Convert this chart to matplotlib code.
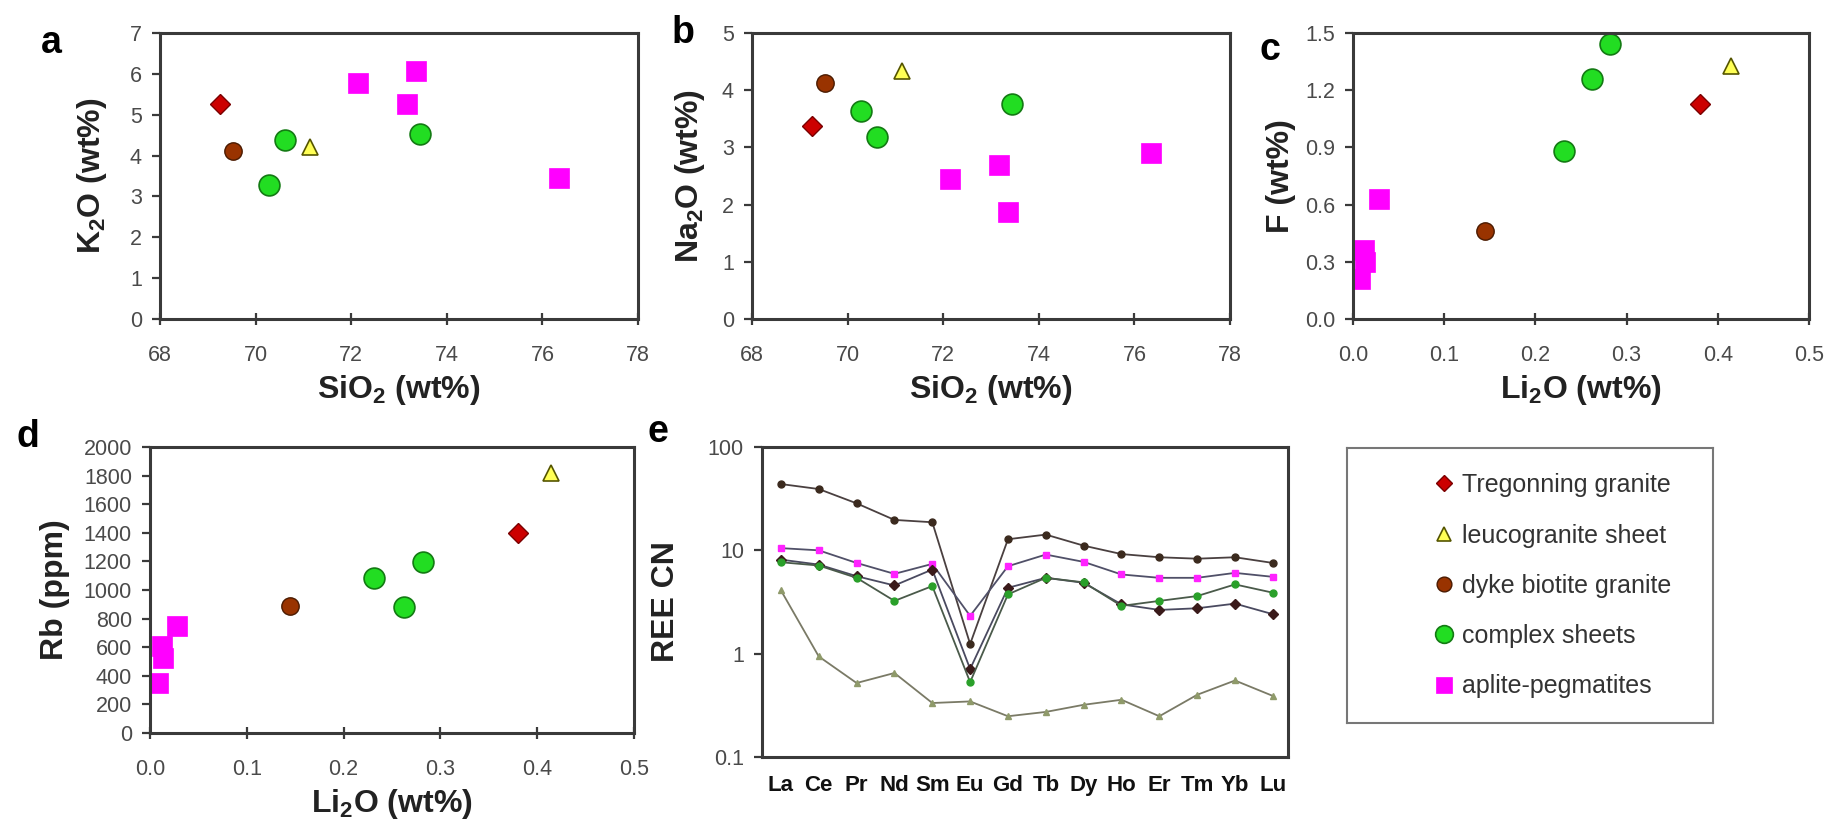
import numpy as np
import matplotlib.pyplot as plt
from matplotlib.lines import Line2D

plt.rcParams['font.family'] = ['Liberation Sans', 'DejaVu Sans']
plt.rcParams['mathtext.fontset'] = 'custom'
plt.rcParams['mathtext.rm'] = 'Liberation Sans:bold'
plt.rcParams['mathtext.bf'] = 'Liberation Sans:bold'
plt.rcParams['mathtext.default'] = 'bf'

# --- whole-rock data by group ---
sio2_treg = [69.25]
k2o_treg = [5.27]
na2o_treg = [3.37]
li2o_treg = [0.380]
f_treg = [1.125]
rb_treg = [1400]

sio2_leuco = [71.14]
k2o_leuco = [4.21]
na2o_leuco = [4.33]
li2o_leuco = [0.414]
f_leuco = [1.325]
rb_leuco = [1820]

sio2_dyke = [69.53]
k2o_dyke = [4.11]
na2o_dyke = [4.13]
li2o_dyke = [0.145]
f_dyke = [0.46]
rb_dyke = [890]

sio2_complex = [70.28, 70.62, 73.44]
k2o_complex = [3.28, 4.39, 4.54]
na2o_complex = [3.63, 3.19, 3.76]
li2o_complex = [0.231, 0.262, 0.282]
f_complex = [0.88, 1.26, 1.44]
rb_complex = [1086, 879, 1193]

sio2_aplite = [72.15, 73.17, 73.35, 76.35]
k2o_aplite = [5.78, 5.27, 6.08, 3.44]
na2o_aplite = [2.44, 2.69, 1.87, 2.90]
li2o_aplite = [0.028, 0.012, 0.013, 0.008]
f_aplite = [0.63, 0.36, 0.30, 0.21]
rb_aplite = [750, 605, 525, 350]

# chondrite-normalised REE
ree = ['La', 'Ce', 'Pr', 'Nd', 'Sm', 'Eu', 'Gd', 'Tb', 'Dy', 'Ho', 'Er', 'Tm', 'Yb', 'Lu']
ree_dyke = [43.8, 39.2, 28.5, 19.7, 18.7, 1.24, 12.8, 14.2, 11.1, 9.2, 8.57, 8.3, 8.57, 7.55]
ree_aplite = [10.5, 10.0, 7.55, 5.92, 7.39, 2.32, 7.02, 9.1, 7.73, 5.84, 5.42, 5.42, 6.05, 5.54]
ree_treg = [8.13, 7.28, 5.62, 4.57, 6.52, 0.71, 4.34, 5.42, 4.85, 3.0, 2.65, 2.75, 3.05, 2.41]
ree_complex = [7.67, 7.13, 5.42, 3.24, 4.51, 0.53, 3.75, 5.42, 4.9, 2.9, 3.24, 3.61, 4.68, 3.89]
ree_leuco = [4.1, 0.94, 0.52, 0.65, 0.333, 0.345, 0.248, 0.273, 0.32, 0.358, 0.248, 0.40, 0.55, 0.39]

group_names = ['Tregonning granite', 'leucogranite sheet', 'dyke biotite granite',
               'complex sheets', 'aplite-pegmatites']

styles = {
    'treg': dict(marker='D', ms=10, mfc='#cc0000', mec='#7a0000', mew=1.0),
    'leuco': dict(marker='^', ms=12, mfc='#ffff55', mec='#555500', mew=1.2),
    'dyke': dict(marker='o', ms=12.5, mfc='#993300', mec='#4a1a00', mew=1.0),
    'complex': dict(marker='o', ms=15, mfc='#22dd22', mec='#137a13', mew=1.2),
    'aplite': dict(marker='s', ms=14, mfc='#ff00ff', mec='#ff00ff', mew=0.5),
}

W, H = 1832, 830
fig = plt.figure(figsize=(W / 100, H / 100), dpi=100)


def box(x0, x1, y0, y1):
    return [x0 / W, 1 - y1 / H, (x1 - x0) / W, (y1 - y0) / H]


def style_axes(ax):
    for sp in ax.spines.values():
        sp.set_color('#3a3a3a')
        sp.set_linewidth(2.2)
    ax.tick_params(axis='y', direction='out', length=6, width=1.6, pad=7,
                   labelsize=15.5, labelcolor='#4a4a4a', color='#3a3a3a')
    ax.tick_params(axis='x', direction='inout', length=8, width=1.6, pad=15,
                   labelsize=15.5, labelcolor='#4a4a4a', color='#3a3a3a')


def scatter_groups(ax, xs, ys):
    for key, x, y in zip(['treg', 'leuco', 'dyke', 'complex', 'aplite'], xs, ys):
        ax.plot(x, y, ls='none', **styles[key])


lab_kw = dict(fontsize=23, fontweight='bold', color='#222222')

# a: K2O vs SiO2
ax_a = fig.add_axes(box(160, 638, 33, 319))
scatter_groups(ax_a, [sio2_treg, sio2_leuco, sio2_dyke, sio2_complex, sio2_aplite],
               [k2o_treg, k2o_leuco, k2o_dyke, k2o_complex, k2o_aplite])
ax_a.set_xlim(68, 78)
ax_a.set_ylim(0, 7)
ax_a.set_xticks(np.arange(68, 79, 2))
ax_a.set_yticks(np.arange(0, 8, 1))
ax_a.set_xlabel(r'SiO$_2$ (wt%)', labelpad=5, **lab_kw)
ax_a.set_ylabel(r'K$_2$O (wt%)', labelpad=15, **lab_kw)
style_axes(ax_a)

# b: Na2O vs SiO2
ax_b = fig.add_axes(box(752, 1230, 33, 319))
scatter_groups(ax_b, [sio2_treg, sio2_leuco, sio2_dyke, sio2_complex, sio2_aplite],
               [na2o_treg, na2o_leuco, na2o_dyke, na2o_complex, na2o_aplite])
ax_b.set_xlim(68, 78)
ax_b.set_ylim(0, 5)
ax_b.set_xticks(np.arange(68, 79, 2))
ax_b.set_yticks(np.arange(0, 6, 1))
ax_b.set_xlabel(r'SiO$_2$ (wt%)', labelpad=5, **lab_kw)
ax_b.set_ylabel(r'Na$_2$O (wt%)', labelpad=11, **lab_kw)
style_axes(ax_b)

# c: F vs Li2O
ax_c = fig.add_axes(box(1353, 1809, 33, 319))
scatter_groups(ax_c, [li2o_treg, li2o_leuco, li2o_dyke, li2o_complex, li2o_aplite],
               [f_treg, f_leuco, f_dyke, f_complex, f_aplite])
ax_c.set_xlim(0, 0.5)
ax_c.set_ylim(0, 1.5)
ax_c.set_xticks(np.arange(0, 0.51, 0.1))
ax_c.set_yticks(np.arange(0, 1.51, 0.3))
ax_c.xaxis.set_major_formatter(plt.FormatStrFormatter('%.1f'))
ax_c.yaxis.set_major_formatter(plt.FormatStrFormatter('%.1f'))
ax_c.set_xlabel(r'Li$_2$O (wt%)', labelpad=5, **lab_kw)
ax_c.set_ylabel('F (wt%)', labelpad=6, **lab_kw)
style_axes(ax_c)

# d: Rb vs Li2O
ax_d = fig.add_axes(box(150, 634, 447, 733))
scatter_groups(ax_d, [li2o_treg, li2o_leuco, li2o_dyke, li2o_complex, li2o_aplite],
               [rb_treg, rb_leuco, rb_dyke, rb_complex, rb_aplite])
ax_d.set_xlim(0, 0.5)
ax_d.set_ylim(0, 2000)
ax_d.set_xticks(np.arange(0, 0.51, 0.1))
ax_d.set_yticks(np.arange(0, 2001, 200))
ax_d.xaxis.set_major_formatter(plt.FormatStrFormatter('%.1f'))
ax_d.set_xlabel(r'Li$_2$O (wt%)', labelpad=5, **lab_kw)
ax_d.set_ylabel('Rb (ppm)', labelpad=10, **lab_kw)
style_axes(ax_d)

# e: REE spider diagram
ax_e = fig.add_axes(box(762, 1288, 447, 757))
xpos = np.arange(len(ree))
ree_series = [
    (ree_dyke, 'o', '#3b2a1e', '#4a4040'),
    (ree_aplite, 's', '#ff22ff', '#505068'),
    (ree_treg, 'D', '#3a1a1a', '#4a4a60'),
    (ree_complex, 'o', '#2aa02a', '#4a5a4a'),
    (ree_leuco, '^', '#8f9a6a', '#7a7a66'),
]
for vals, mk, mc, lc in ree_series:
    ax_e.plot(xpos, vals, color=lc, lw=1.3, marker=mk, ms=5, mfc=mc, mec=mc)
ax_e.set_yscale('log')
ax_e.set_ylim(0.1, 100)
ax_e.set_xlim(-0.5, 13.4)
ax_e.set_yticks([0.1, 1, 10, 100])
ax_e.set_yticklabels(['0.1', '1', '10', '100'])
ax_e.yaxis.set_minor_locator(plt.NullLocator())
ax_e.set_xticks(xpos)
ax_e.set_xticklabels(ree)
ax_e.set_ylabel('REE CN', labelpad=19, **lab_kw)
style_axes(ax_e)
ax_e.tick_params(axis='x', length=0, pad=13, labelcolor='#111111')
for t in ax_e.get_xticklabels():
    t.set_fontweight('bold')
    t.set_fontsize(16)

# panel letters
for x, y, s in [(51, 43, 'a'), (683, 33, 'b'), (1270, 50, 'c'), (28, 437, 'd'), (658, 432, 'e')]:
    fig.text(x / W, 1 - y / H, s, fontsize=27, fontweight='bold', ha='center', va='center')

# legend panel
ax_l = fig.add_axes(box(1347, 1713, 448, 723))
ax_l.set_xticks([])
ax_l.set_yticks([])
for sp in ax_l.spines.values():
    sp.set_color('#777777')
    sp.set_linewidth(1.5)
handles = []
for key in ['treg', 'leuco', 'dyke', 'complex', 'aplite']:
    st = dict(styles[key])
    st['ms'] = st['ms'] * 0.85
    handles.append(Line2D([], [], ls='none', **st))
ax_l.legend(handles, group_names, loc='upper left', bbox_to_anchor=(0.175, 0.99),
            frameon=False, fontsize=18, labelspacing=1.05, handlelength=0.8,
            handletextpad=0.35, labelcolor='#333333')

fig.savefig('out.png', dpi=100)
